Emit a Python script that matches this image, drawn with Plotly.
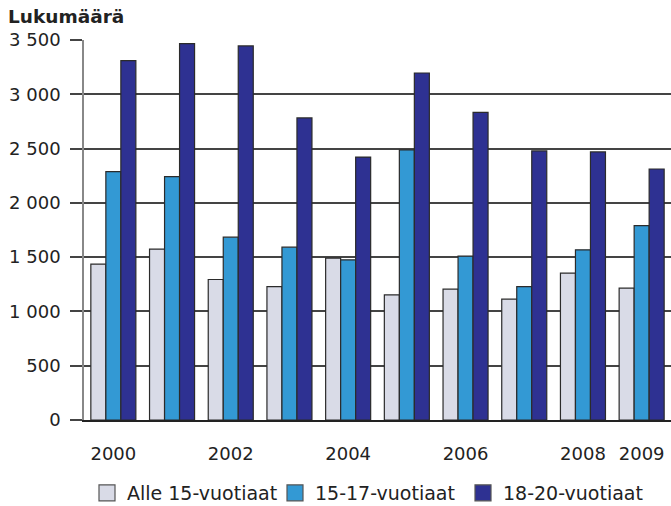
import plotly.graph_objects as go

years = [2000, 2001, 2002, 2003, 2004, 2005, 2006, 2007, 2008, 2009]
alle15 = [1436, 1574, 1294, 1229, 1491, 1153, 1205, 1113, 1353, 1214]
v15_17 = [2287, 2241, 1684, 1592, 1475, 2487, 1509, 1229, 1567, 1791]
v18_20 = [3310, 3466, 3445, 2782, 2422, 3196, 2833, 2478, 2469, 2312]

series_names = ["Alle 15-vuotiaat", "15-17-vuotiaat", "18-20-vuotiaat"]
series_vals = [alle15, v15_17, v18_20]
colors = ["#d9dbe7", "#3399d4", "#2e3192"]
x_ticks = [2000, 2002, 2004, 2006, 2008, 2009]
y_ticks = [0, 500, 1000, 1500, 2000, 2500, 3000, 3500]

FONT = "DejaVu Sans"

fig = go.Figure()
for name, vals, col in zip(series_names, series_vals, colors):
    fig.add_trace(go.Bar(
        x=years, y=vals, name=name, showlegend=False,
        marker=dict(color=col, line=dict(color="#2b2b2b", width=1.2)),
    ))
# legend entries (larger square swatches)
for name, col in zip(series_names, colors):
    fig.add_trace(go.Scatter(
        x=[None], y=[None], mode="markers", name=name,
        marker=dict(symbol="square", size=16, color=col,
                    line=dict(color="#555", width=1.2)),
    ))

fig.update_layout(
    width=671, height=506,
    margin=dict(l=84, r=0, t=40, b=86),
    paper_bgcolor="white", plot_bgcolor="white",
    font=dict(family=FONT, size=18, color="#222"),
    separators=", ",
    barmode="group", bargap=0.233, bargroupgap=0,
    title=dict(text="<b>Lukumäärä</b>", x=0.012, xanchor="left",
               y=1 - 17 / 506, yanchor="middle",
               font=dict(family=FONT, size=18.5, color="#222")),
    legend=dict(orientation="h", xref="container", x=87 / 671, xanchor="left",
                yref="container", y=1 - 493 / 506, yanchor="middle",
                entrywidth=143, entrywidthmode="pixels",
                itemsizing="trace", font=dict(size=19), tracegroupgap=0),
    xaxis=dict(range=[1999.5, 2009.5], tickmode="array", tickvals=x_ticks,
               showgrid=False, showline=True, linecolor="#222", linewidth=2,
               ticks="", ticklabelstandoff=16, zeroline=False),
    yaxis=dict(range=[0, 3500], tickmode="array", tickvals=y_ticks,
               tickformat=",d", showgrid=True, gridcolor="#444", gridwidth=1.5,
               showline=True, linecolor="#888", linewidth=1.5,
               ticks="outside", ticklen=12, tickcolor="#444", tickwidth=1.5,
               ticklabelstandoff=6, zeroline=False),
)

fig.write_html(
    "out.html",
    config={"displayModeBar": False},
    post_script="document.body.style.margin='0';document.body.style.overflow='hidden';",
)
